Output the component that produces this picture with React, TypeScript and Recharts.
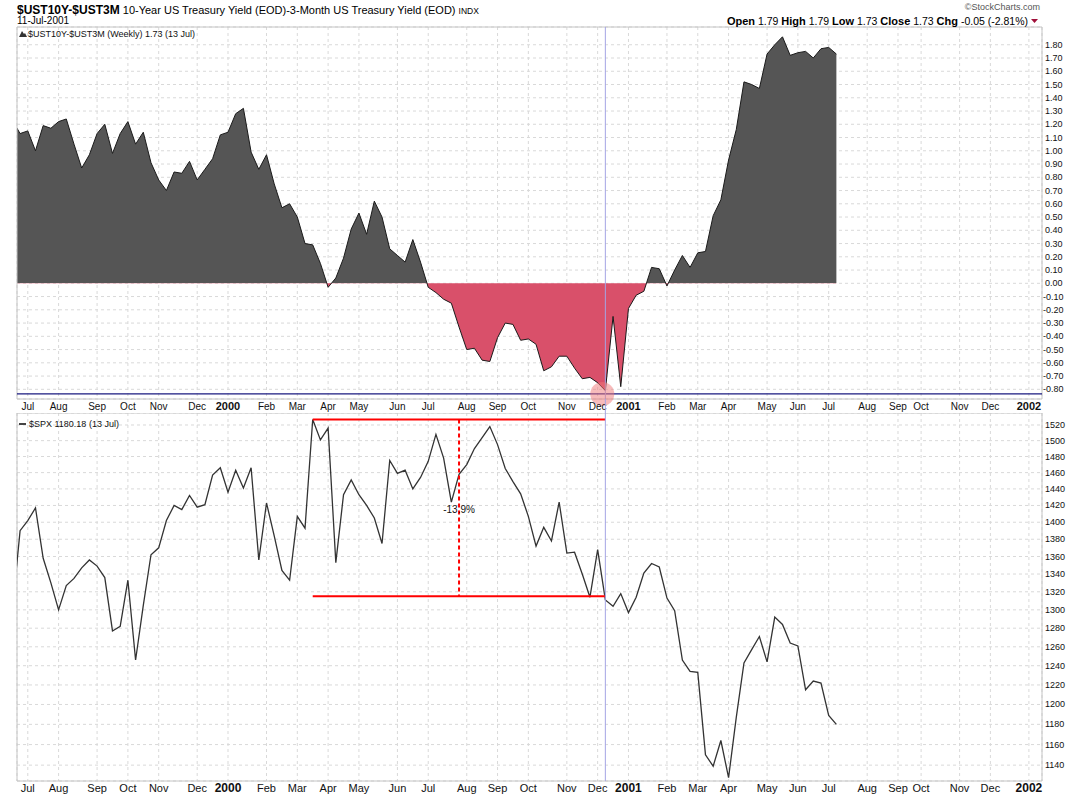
import {
  ComposedChart,
  Area,
  Line,
  XAxis,
  YAxis,
  CartesianGrid,
  ReferenceLine,
  ReferenceDot,
  ReferenceArea,
} from "recharts";

// weekly closes, first entry is the week before the visible window (clipped at left edge)
const spread = [
  1.23, 1.13, 1.15, 1.0, 1.19, 1.17, 1.22, 1.24, 1.05, 0.87,
  0.97, 1.13, 1.2, 0.98, 1.13, 1.22, 1.05, 1.14, 0.91, 0.78,
  0.7, 0.84, 0.83, 0.92, 0.78, 0.86, 0.94, 1.12, 1.14, 1.28,
  1.32, 0.99, 0.86, 0.97, 0.75, 0.57, 0.6, 0.5, 0.3, 0.29,
  0.15, -0.03, 0.04, 0.19, 0.41, 0.53, 0.37, 0.62, 0.5, 0.26,
  0.21, 0.16, 0.33, 0.16, -0.03, -0.07, -0.12, -0.15, -0.33, -0.5,
  -0.49, -0.58, -0.59, -0.41, -0.3, -0.31, -0.43, -0.42, -0.46, -0.66,
  -0.63, -0.55, -0.55, -0.64, -0.72, -0.71, -0.75, -0.81, -0.25, -0.78,
  -0.19, -0.09, -0.06, 0.12, 0.11, -0.02, 0.1, 0.21, 0.12, 0.23,
  0.24, 0.51, 0.63, 0.93, 1.16, 1.52, 1.5, 1.47, 1.73, 1.8,
  1.86, 1.72, 1.74, 1.75, 1.7, 1.77, 1.78, 1.73,
];

const spx = [
  1300, 1390, 1402, 1417, 1358, 1330, 1300, 1327, 1335, 1347,
  1356, 1349, 1336, 1277, 1282, 1333, 1246, 1305, 1362, 1370,
  1402, 1420, 1415, 1432, 1418, 1421, 1457, 1466, 1436, 1463,
  1441, 1466, 1356, 1423, 1384, 1344, 1333, 1407, 1393, 1527,
  1501, 1516, 1353, 1433, 1451, 1433, 1420, 1405, 1375, 1475,
  1459, 1463, 1440, 1454, 1474, 1508, 1478, 1424, 1458, 1470,
  1490, 1504, 1518, 1495, 1465, 1449, 1434, 1407, 1372, 1394,
  1378, 1424, 1364, 1365, 1340, 1314, 1368, 1311, 1304, 1318,
  1297, 1314, 1341, 1352, 1348, 1313, 1299, 1246, 1234, 1233,
  1150, 1139, 1164, 1128, 1187, 1243, 1257, 1271, 1244, 1292,
  1284, 1264, 1261, 1215, 1224, 1222, 1189, 1180,
];

// month grid, in weeks from 2 Jul 1999
const monthTicks = [1, 5, 10, 14, 18, 23, 27, 32, 36, 40, 44, 49, 53, 58, 62, 66, 71, 75, 79, 84, 88, 92, 97, 101, 105, 110, 114, 117, 122, 126, 131];
const monthLabels = ["Jul", "Aug", "Sep", "Oct", "Nov", "Dec", "2000", "Feb", "Mar", "Apr", "May", "Jun", "Jul", "Aug", "Sep", "Oct", "Nov", "Dec", "2001", "Feb", "Mar", "Apr", "May", "Jun", "Jul", "Aug", "Sep", "Oct", "Nov", "Dec", "2002"];

const spreadTicks = [-0.8, -0.7, -0.6, -0.5, -0.4, -0.3, -0.2, -0.1, 0, 0.1, 0.2, 0.3, 0.4, 0.5, 0.6, 0.7, 0.8, 0.9, 1.0, 1.1, 1.2, 1.3, 1.4, 1.5, 1.6, 1.7, 1.8];
const spxTicks = [1140, 1160, 1180, 1200, 1220, 1240, 1260, 1280, 1300, 1320, 1340, 1360, 1380, 1400, 1420, 1440, 1460, 1480, 1500, 1520];

// annotations: cursor week, peak/trough drawdown lines
const cursorWeek = 76;
const minSpread = -0.835;
const ddStart = 38;
const ddEnd = 76;
const ddMid = 57;
const ddHigh = 1527;
const ddLow = 1315;
const ddLabel = "-13.9%";

const rows = spread.map((s, k) => ({ i: k - 1, spread: s, spx: spx[k] }));

const PLOT_LEFT = 17;
const PLOT_W = 1025;
const X_DOMAIN: [number, number] = [-0.4, 132.7];
const TOP_DOMAIN: [number, number] = [-0.873, 1.934];
const SPX_DOMAIN: [number, number] = [1124.8, 1535.5];

const FONT = '"Liberation Sans", Arial, sans-serif';
const NARROW = '"Liberation Sans Narrow", "Liberation Sans", Arial, sans-serif';

const sMax = Math.max(...spread);
const sMin = Math.min(...spread);
const zeroOff = sMax / (sMax - sMin);

// cursor line also runs through the date row between the panels
const cursorX = PLOT_LEFT + ((cursorWeek - X_DOMAIN[0]) / (X_DOMAIN[1] - X_DOMAIN[0])) * PLOT_W;

const MonthTick = (props: any) => {
  const { x, y, payload, family, size } = props;
  const label = monthLabels[monthTicks.indexOf(payload.value)];
  const isYear = /^\d{4}$/.test(label);
  return (
    <text
      x={x}
      y={y + 11}
      textAnchor="middle"
      fontFamily={family}
      fontSize={isYear ? size + 1 : size}
      fontWeight={isYear ? "bold" : "normal"}
      fill="#111"
    >
      {label}
    </text>
  );
};

const PriceTick = (props: any) => {
  const { x, y, payload, digits } = props;
  const v = payload.value as number;
  return (
    <text x={v < 0 ? x - 2 : x} y={y + 3} textAnchor="start" fontFamily={FONT} fontSize={9} fill="#111">
      {v.toFixed(digits)}
    </text>
  );
};

function SpreadPanel() {
  return (
    <ComposedChart width={1080} height={413} data={rows} margin={{ top: 27, right: 0, bottom: 0, left: PLOT_LEFT }}>
      <defs>
        <linearGradient id="spreadFill" x1="0" y1="0" x2="0" y2="1">
          <stop offset={zeroOff} stopColor="#555555" />
          <stop offset={zeroOff} stopColor="#d9506a" />
        </linearGradient>
      </defs>
      <CartesianGrid stroke="#d9d9d9" strokeDasharray="3 3" />
      <XAxis
        dataKey="i"
        type="number"
        domain={X_DOMAIN}
        ticks={monthTicks}
        interval={0}
        allowDataOverflow
        height={14}
        axisLine={false}
        tickLine={false}
        tickSize={0}
        tickMargin={0}
        tick={<MonthTick family={FONT} size={10} />}
      />
      <YAxis
        orientation="right"
        width={38}
        type="number"
        domain={TOP_DOMAIN}
        ticks={spreadTicks}
        interval={0}
        allowDataOverflow
        axisLine={false}
        tickLine={false}
        tickSize={0}
        tickMargin={3}
        tick={<PriceTick digits={2} />}
      />
      <Area
        type="linear"
        dataKey="spread"
        stroke="#1a1a1a"
        strokeWidth={1}
        fill="url(#spreadFill)"
        fillOpacity={1}
        isAnimationActive={false}
      />
      <ReferenceLine y={minSpread} stroke="#1a1a80" strokeWidth={1.2} />
      <ReferenceLine x={cursorWeek} stroke="#a4a4e4" strokeWidth={1} />
      <ReferenceDot x={cursorWeek - 0.4} y={minSpread} r={12} fill="#f07878" fillOpacity={0.5} stroke="none" />
      <ReferenceArea x1={X_DOMAIN[0]} x2={X_DOMAIN[1]} y1={TOP_DOMAIN[0]} y2={TOP_DOMAIN[1]} fill="none" stroke="#c4c4c4" />
    </ComposedChart>
  );
}

function SpxPanel() {
  return (
    <ComposedChart width={1080} height={387} data={rows} margin={{ top: 0, right: 0, bottom: 0, left: PLOT_LEFT }}>
      <CartesianGrid stroke="#d9d9d9" strokeDasharray="3 3" />
      <XAxis
        dataKey="i"
        type="number"
        domain={X_DOMAIN}
        ticks={monthTicks}
        interval={0}
        allowDataOverflow
        height={19}
        axisLine={false}
        tickLine={false}
        tickSize={0}
        tickMargin={0}
        tick={<MonthTick family={NARROW} size={11} />}
      />
      <YAxis
        orientation="right"
        width={38}
        type="number"
        scale="log"
        domain={SPX_DOMAIN}
        ticks={spxTicks}
        interval={0}
        allowDataOverflow
        axisLine={false}
        tickLine={false}
        tickSize={0}
        tickMargin={3}
        tick={<PriceTick digits={0} />}
      />
      <Line type="linear" dataKey="spx" stroke="#333" strokeWidth={1.3} dot={false} isAnimationActive={false} />
      <ReferenceLine segment={[{ x: ddStart, y: ddHigh }, { x: ddEnd, y: ddHigh }]} stroke="#ff0000" strokeWidth={2} />
      <ReferenceLine segment={[{ x: ddStart, y: ddLow }, { x: ddEnd, y: ddLow }]} stroke="#ff0000" strokeWidth={2} />
      <ReferenceLine
        segment={[{ x: ddMid, y: ddHigh }, { x: ddMid, y: ddLow }]}
        stroke="#ff0000"
        strokeWidth={2}
        strokeDasharray="4 3"
      />
      <ReferenceDot
        x={ddMid}
        y={1416}
        r={0}
        shape={(p: any) => (
          <text x={p.cx} y={p.cy + 4} textAnchor="middle" fontFamily={FONT} fontSize={10} fill="#111">
            {ddLabel}
          </text>
        )}
      />
      <ReferenceLine x={cursorWeek} stroke="#a4a4e4" strokeWidth={1} />
      <ReferenceArea x1={X_DOMAIN[0]} x2={X_DOMAIN[1]} y1={SPX_DOMAIN[0]} y2={SPX_DOMAIN[1]} fill="none" stroke="#c4c4c4" />
    </ComposedChart>
  );
}

export default function App() {
  return (
    <div style={{ position: "absolute", left: 0, top: 0, width: 1080, height: 800, background: "#fff", overflow: "hidden" }}>
      <div style={{ position: "absolute", left: 0, top: 0 }}>
        <SpreadPanel />
      </div>
      <div style={{ position: "absolute", left: 0, top: 413 }}>
        <SpxPanel />
      </div>
      <svg width={1080} height={800} style={{ position: "absolute", left: 0, top: 0, pointerEvents: "none" }}>
        <line x1={cursorX} x2={cursorX} y1={399} y2={413} stroke="#a4a4e4" strokeWidth={1} />
        <text x={17} y={14} fontFamily={FONT} fontSize={11} fill="#000">
          <tspan fontWeight="bold" fontSize={12}>$UST10Y-$UST3M</tspan>
          <tspan> 10-Year US Treasury Yield (EOD)-3-Month US Treasury Yield (EOD) </tspan>
          <tspan fontSize={8.5}>INDX</tspan>
        </text>
        <text x={17} y={24} fontFamily={FONT} fontSize={10} fill="#000">11-Jul-2001</text>
        <text x={1040} y={10} textAnchor="end" fontFamily={FONT} fontSize={9} fill="#555">©StockCharts.com</text>
        <text x={1028} y={25} textAnchor="end" fontFamily={FONT} fontSize={10.5} fill="#000">
          <tspan fontWeight="bold" fontSize={11}>Open</tspan>
          <tspan> 1.79  </tspan>
          <tspan fontWeight="bold" fontSize={11}>High</tspan>
          <tspan> 1.79  </tspan>
          <tspan fontWeight="bold" fontSize={11}>Low</tspan>
          <tspan> 1.73  </tspan>
          <tspan fontWeight="bold" fontSize={11}>Close</tspan>
          <tspan> 1.73  </tspan>
          <tspan fontWeight="bold" fontSize={11}>Chg</tspan>
          <tspan> -0.05 (-2.81%)</tspan>
        </text>
        <polygon points="1031,19 1038,19 1034.5,23" fill="#a0103a" />
        <polygon points="19,37 22,31 24,34 25,33 27,37" fill="#333" />
        <text x={28} y={37} fontFamily={FONT} fontSize={9} fill="#111">$UST10Y-$UST3M (Weekly) 1.73 (13 Jul)</text>
        <rect x={19} y={423} width={7} height={2} fill="#444" />
        <text x={29} y={427} fontFamily={FONT} fontSize={9} fill="#111">$SPX 1180.18 (13 Jul)</text>
      </svg>
    </div>
  );
}
